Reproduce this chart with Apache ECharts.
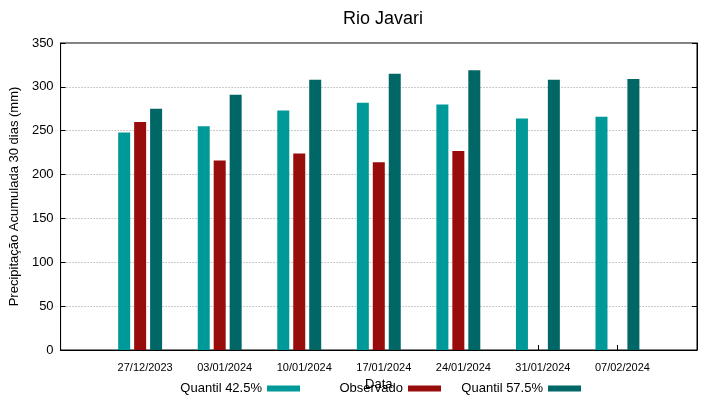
<!DOCTYPE html>
<html>
<head>
<meta charset="utf-8">
<script src="https://cdn.jsdelivr.net/npm/echarts@6/dist/echarts.min.js"></script>
<style>
  html, body { margin: 0; padding: 0; background: #fff; }
  #chart { width: 719px; height: 399px; }
</style>
</head>
<body>
<div id="chart"></div>
<script>
// datas (eixo x) e valores
var dates = ['27/12/2023', '03/01/2024', '10/01/2024', '17/01/2024', '24/01/2024', '31/01/2024', '07/02/2024'];
var quantil425 = [248, 255, 273, 282, 280, 264, 266];
var observado = [260, 216, 224, 214, 227, null, null];
var quantil575 = [275, 291, 308, 315, 319, 308, 309];
var seriesNames = ['Quantil 42.5%', 'Observado', 'Quantil 57.5%'];

// categoria vazia nas pontas para deixar espaço como no gnuplot
function pad(arr) { return [null].concat(arr, [null]); }
var cats = [''].concat(dates, ['']);

var chart = echarts.init(document.getElementById('chart'));
var font = 'Liberation Sans, Arial, sans-serif';

// uma legenda por coluna (gnuplot usa colunas de largura fixa)
var legendRight = [414, 273, 133];
var legends = seriesNames.map(function (n, i) {
  return {
    right: legendRight[i],
    top: 377,
    align: 'right',
    icon: 'rect',
    itemWidth: 33,
    itemHeight: 6,
    textStyle: { fontSize: 13, color: '#000', fontFamily: font },
    data: [n]
  };
});

var option = {
  animation: false,
  textStyle: { fontFamily: font },
  title: {
    text: 'Rio Javari',
    left: 378,
    textAlign: 'center',
    top: 5,
    textStyle: { fontSize: 18, fontWeight: 'normal', color: '#000', fontFamily: font }
  },
  legend: legends,
  grid: {
    left: 59,
    right: 22,
    top: 43,
    bottom: 49,
    show: true,
    borderColor: '#000',
    borderWidth: 1
  },
  xAxis: {
    type: 'category',
    data: cats,
    boundaryGap: false,
    name: 'Data',
    nameLocation: 'middle',
    nameGap: 23,
    nameTextStyle: { fontSize: 13, color: '#000' },
    axisLine: { lineStyle: { color: '#000' } },
    axisTick: { inside: true, length: 5, lineStyle: { color: '#000' } },
    axisLabel: {
      interval: 0,
      fontSize: 11,
      color: '#000',
      margin: 12,
      padding: [0, 0, 0, 10]
    },
    splitLine: { show: false }
  },
  yAxis: [
    {
      type: 'value',
      min: 0,
      max: 350,
      interval: 50,
      name: 'Precipitação Acumulada 30 dias (mm)',
      nameLocation: 'middle',
      nameGap: 35,
      nameTextStyle: { fontSize: 13, color: '#000' },
      axisLine: { show: true, lineStyle: { color: '#000' } },
      axisTick: { show: true, inside: true, length: 5, lineStyle: { color: '#000' } },
      axisLabel: { fontSize: 13, color: '#000', margin: 7 },
      splitLine: { show: true, lineStyle: { color: '#999', type: [1, 2], width: 1 } }
    },
    {
      type: 'value',
      min: 0,
      max: 350,
      interval: 50,
      position: 'right',
      axisLine: { show: true, lineStyle: { color: '#000' } },
      axisTick: { show: true, inside: true, length: 5, lineStyle: { color: '#000' } },
      axisLabel: { show: false },
      splitLine: { show: false }
    }
  ],
  series: [
    {
      name: seriesNames[0],
      type: 'bar',
      barWidth: 12,
      barGap: '33%',
      itemStyle: { color: '#009999' },
      data: pad(quantil425)
    },
    {
      name: seriesNames[1],
      type: 'bar',
      barWidth: 12,
      barGap: '33%',
      itemStyle: { color: '#990c0c' },
      data: pad(observado)
    },
    {
      name: seriesNames[2],
      type: 'bar',
      barWidth: 12,
      barGap: '33%',
      itemStyle: { color: '#006666' },
      data: pad(quantil575)
    }
  ]
};

chart.setOption(option);
</script>
</body>
</html>
